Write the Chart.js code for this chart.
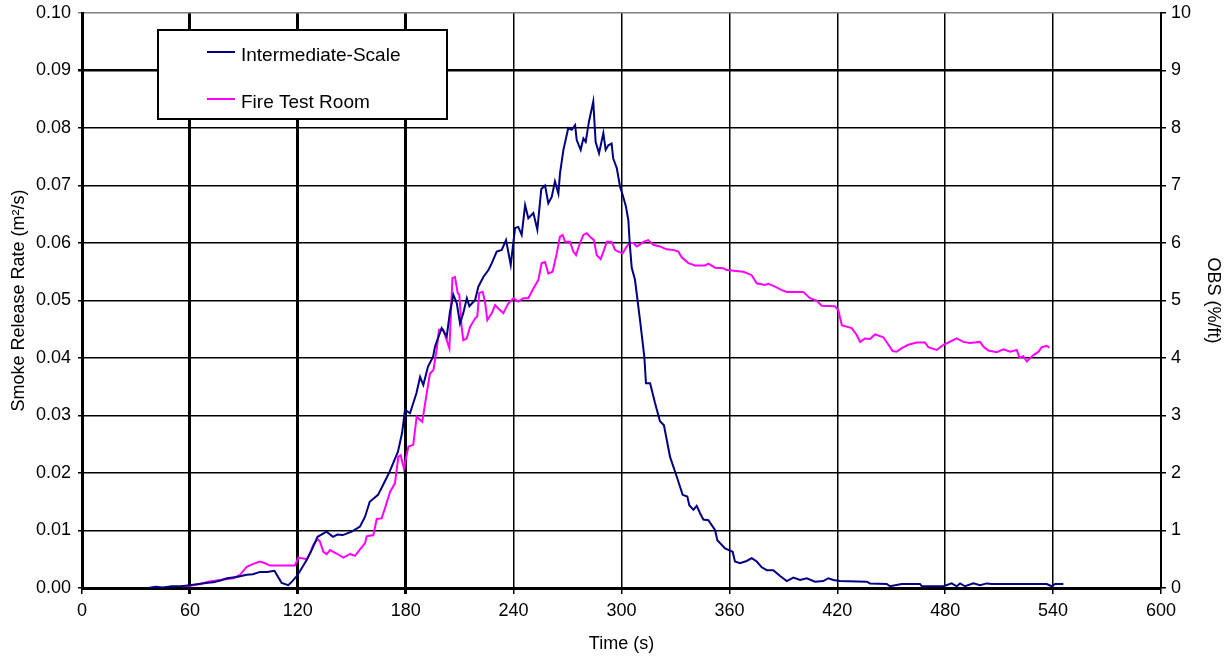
<!DOCTYPE html>
<html>
<head>
<meta charset="utf-8">
<title>Smoke Release Rate</title>
<script src="https://cdn.jsdelivr.net/npm/chart.js@4/dist/chart.umd.min.js"></script>
<style>
    body { margin: 0; background: #fff; }
    #wrap { width: 1232px; height: 657px; }
</style>
</head>
<body>
<div id="wrap"><canvas id="smokeChart" width="1232" height="657"></canvas></div>
<script>
// ---- datos ----
// Intermediate-Scale: tiempo (s) y tasa de humo (m2/s)
const isTime = [37, 41, 45, 50, 55, 60, 65, 70, 73, 77, 80.6, 86, 91.6, 95, 99, 103, 107, 108.3, 111, 114.7, 117, 120,
    125, 128, 131, 136, 139.6, 142, 145, 150, 154.6, 157.4, 160, 164.6, 167.4, 171, 175.7, 178, 179.6, 182.4, 186, 188,
    189.8, 192.4, 195.2, 196.3, 200, 202.8, 204.6, 206.5, 208.4, 210.2, 212, 214, 215.4, 218.6, 220.4, 223.2, 226, 227.9,
    230.6, 233.4, 235.8, 238.4, 240.8, 242.6, 244.5, 246.4, 248.2, 251, 253.2, 255.4, 257.5, 259.3, 261.2, 263, 264.9,
    265.8, 267.7, 270.4, 272.3, 274.2, 275.1, 277.3, 278.8, 280.1, 281.9, 284.3, 285.6, 287.5, 289.9, 291.2, 292.7, 294.5,
    295.4, 297.4, 299.2, 300.7, 302.5, 303.8, 304.7, 305.7, 307.5, 310.3, 312.7, 313.6, 315.9, 318.6, 321.4, 323.6, 327,
    330.7, 334, 336.6, 337.7, 340, 341.8, 343.7, 345.5, 348.3, 352, 353.3, 357.6, 361.8, 363.1, 365.9, 369.6, 372.4,
    375.2, 378, 380.8, 384.4, 388.2, 391.9, 395.6, 399.3, 403, 407.6, 412.2, 415, 417.8, 421.5, 436.4, 438.2, 447.5,
    449.3, 455.8, 466, 467, 479, 483.6, 486.4, 488.3, 491, 495.7, 499.4, 503.1, 505.9, 536.5, 539.2, 541.1, 545.7];
const isSmoke = [0, 0.0002, 0.0001, 0.0003, 0.0003, 0.0005, 0.0007, 0.0009, 0.001, 0.0013, 0.0017, 0.0019, 0.0023, 0.0024,
    0.0028, 0.0028, 0.003, 0.0023, 0.0009, 0.0005, 0.0012, 0.0023, 0.0049, 0.0068, 0.0089, 0.0098, 0.0089, 0.0093, 0.0092,
    0.0098, 0.0107, 0.0124, 0.015, 0.0162, 0.0179, 0.0202, 0.0237, 0.027, 0.031, 0.0304, 0.0339, 0.0367, 0.0353, 0.0385,
    0.0402, 0.042, 0.0452, 0.0437, 0.048, 0.051, 0.0495, 0.046, 0.0478, 0.0504, 0.049, 0.0501, 0.0524, 0.0541, 0.0553,
    0.0565, 0.0585, 0.0588, 0.0605, 0.0562, 0.0626, 0.0628, 0.0614, 0.0666, 0.0643, 0.0652, 0.0623, 0.0694, 0.07, 0.0669,
    0.068, 0.0707, 0.0686, 0.0721, 0.0762, 0.08, 0.0797, 0.0805, 0.0779, 0.0762, 0.0782, 0.0776, 0.0811, 0.0846, 0.0776,
    0.0756, 0.0791, 0.0762, 0.077, 0.0773, 0.0747, 0.073, 0.0698, 0.0683, 0.0663, 0.064, 0.0594, 0.0557, 0.0536, 0.0466,
    0.0402, 0.0356, 0.0356, 0.0322, 0.029, 0.0283, 0.0228, 0.0194, 0.0162, 0.0159, 0.0144, 0.0136, 0.0143, 0.013, 0.0119,
    0.0118, 0.0101, 0.0083, 0.0069, 0.0063, 0.0046, 0.0043, 0.0047, 0.0052, 0.0046, 0.0036, 0.0031, 0.0031, 0.0021,
    0.0012, 0.0018, 0.0014, 0.0017, 0.0011, 0.0012, 0.0017, 0.0014, 0.0012, 0.0011, 0.0008, 0.0007, 0.0003, 0.0007,
    0.0007, 0.0003, 0.0003, 0.0008, 0.0003, 0.0008, 0.0003, 0.0008, 0.0005, 0.0008, 0.0007, 0.0007, 0.0003, 0.0007, 0.0007];

// Fire Test Room: tiempo (s) y OBS (%/ft), eje derecho
const ftrTime = [55.4, 60, 65.6, 70.2, 76.7, 84.1, 87.9, 91.6, 95.3, 99, 101.8, 104.5, 118.4, 120.3, 124.9, 126.8, 128.6,
    130.9, 132.3, 134.2, 136.1, 138, 141.6, 145.3, 149, 151.8, 154.6, 157.4, 158.3, 162, 163.9, 166.6, 168.5, 171.3, 174,
    175.9, 177.2, 179, 181.5, 184.2, 186.1, 189.2, 191.7, 193.5, 195.4, 197.2, 198.5, 200.9, 202.8, 204.3, 206, 207.4,
    208.9, 209.8, 211.1, 212, 213.9, 215.8, 218.6, 219.8, 220.9, 222.8, 224.1, 225.4, 227.9, 229.7, 231.5, 234.3, 237.1,
    239.9, 242.6, 245.4, 248.2, 251, 253.8, 255.6, 257.5, 259.3, 261.7, 264, 265.8, 267.3, 268.6, 271.4, 273.2, 274.7,
    276.6, 278.8, 280.7, 282.5, 284.7, 286.2, 288.4, 290.3, 291.8, 294.5, 296.4, 298.2, 300.7, 302.9, 304.7, 306.6, 308.5,
    310.3, 312.2, 314.9, 317.7, 321.4, 325.1, 328.8, 331.6, 333.5, 337.2, 340.9, 346.5, 348.3, 352, 356.7, 358.5, 367.8,
    372.4, 375.2, 379.8, 381.7, 385.4, 389.1, 391.9, 401.1, 404.8, 408.5, 411.3, 418.7, 420.6, 422.5, 428, 430.8, 432.7,
    435.4, 438.2, 441, 445.6, 447.8, 450.8, 453, 455.8, 459.5, 464.2, 468.8, 470.6, 475.3, 479, 481.8, 486.4, 490.1,
    493.8, 499.4, 501.2, 504, 508.7, 512.4, 516.1, 519.8, 521.3, 523.5, 525.4, 529.1, 531.9, 533.7, 536.5, 537.9];
const ftrObs = [0.03, 0.04, 0.07, 0.11, 0.14, 0.17, 0.23, 0.37, 0.42, 0.46, 0.43, 0.39, 0.39, 0.53, 0.50, 0.60, 0.75, 0.85,
    0.81, 0.63, 0.59, 0.66, 0.60, 0.53, 0.59, 0.56, 0.67, 0.78, 0.90, 0.92, 1.20, 1.21, 1.39, 1.67, 1.82, 2.28, 2.31, 2.08,
    2.46, 2.49, 2.98, 2.89, 3.39, 3.73, 3.79, 4.14, 4.49, 4.49, 4.31, 4.17, 5.39, 5.41, 5.13, 5.10, 4.54, 4.31, 4.34, 4.54,
    4.69, 4.72, 5.13, 5.15, 4.98, 4.66, 4.78, 4.92, 4.86, 4.78, 4.95, 5.04, 4.98, 5.04, 5.04, 5.21, 5.36, 5.65, 5.67, 5.47,
    5.50, 5.82, 6.11, 6.14, 6.02, 6.02, 5.85, 5.79, 5.97, 6.14, 6.17, 6.11, 6.05, 5.79, 5.72, 5.88, 6.02, 6.02, 5.88, 5.85,
    5.82, 5.94, 6.00, 6.00, 5.94, 5.97, 6.02, 6.05, 5.97, 5.94, 5.89, 5.88, 5.85, 5.75, 5.65, 5.61, 5.61, 5.64, 5.57, 5.56,
    5.53, 5.50, 5.44, 5.30, 5.27, 5.29, 5.24, 5.18, 5.15, 5.15, 5.04, 5.00, 4.91, 4.90, 4.83, 4.57, 4.52, 4.40, 4.28, 4.34,
    4.33, 4.41, 4.36, 4.26, 4.12, 4.11, 4.17, 4.23, 4.27, 4.27, 4.19, 4.14, 4.23, 4.27, 4.34, 4.28, 4.26, 4.28, 4.20, 4.13,
    4.10, 4.15, 4.11, 4.14, 4.01, 4.03, 3.94, 4.05, 4.11, 4.19, 4.21, 4.18];

// etiquetas y escalas
const xTicks = [0, 60, 120, 180, 240, 300, 360, 420, 480, 540, 600];
const seriesNames = ["Intermediate-Scale", "Fire Test Room"];
const seriesColors = ["#000080", "#FF00FF"];

const FONT = "'Liberation Sans', Arial, sans-serif";

// Leyenda con recuadro, dibujada a mano (como en Excel)
const boxLegend = {
    id: "boxLegend",
    beforeDatasetsDraw(chart) {
        const c = chart.ctx;
        c.save();
        c.fillStyle = "#fff";
        c.fillRect(158, 30, 289, 89);
        c.strokeStyle = "#000";
        c.lineWidth = 2;
        c.strokeRect(158, 30, 289, 89);
        c.font = "19px " + FONT;
        c.textBaseline = "middle";
        chart.data.datasets.forEach((ds, i) => {
            const y = 52 + i * 47;
            c.strokeStyle = ds.borderColor;
            c.lineWidth = 2;
            c.beginPath();
            c.moveTo(207, y);
            c.lineTo(235, y);
            c.stroke();
            c.fillStyle = "#000";
            c.fillText(ds.label, 241, y + 4);
        });
        c.restore();
    }
};

// los ejes verticales no reservan espacio extra arriba/abajo
const noVPad = s => { s.paddingTop = 0; s.paddingBottom = 0; };

const ctx = document.getElementById("smokeChart").getContext("2d");
new Chart(ctx, {
    type: "line",
    data: {
        datasets: [{
            label: seriesNames[0],
            data: isTime.map((t, i) => ({ x: t, y: isSmoke[i] })),
            borderColor: seriesColors[0],
            borderWidth: 2,
            pointRadius: 0,
            tension: 0,
            yAxisID: "y"
        }, {
            label: seriesNames[1],
            data: ftrTime.map((t, i) => ({ x: t, y: ftrObs[i] })),
            borderColor: seriesColors[1],
            borderWidth: 2,
            pointRadius: 0,
            tension: 0,
            yAxisID: "y2"
        }]
    },
    options: {
        responsive: false,
        animation: false,
        devicePixelRatio: 1,
        layout: { padding: { top: 13, left: 0, right: 0, bottom: 0 } },
        plugins: {
            legend: { display: false },
            tooltip: { enabled: false }
        },
        scales: {
            x: {
                type: "linear",
                min: 0,
                max: 600,
                afterBuildTicks: s => { s.ticks = xTicks.map(v => ({ value: v })); },
                afterFit: s => { s.height = 69; },
                border: { color: "#000", width: 3 },
                grid: {
                    color: "#000",
                    lineWidth: c => [60, 120, 180].includes(c.tick && c.tick.value) ? 3 : 1.5,
                    tickLength: 6
                },
                ticks: { color: "#000", font: { size: 18, family: FONT }, padding: 6, maxRotation: 0 },
                title: {
                    display: true,
                    text: "Time (s)",
                    color: "#000",
                    font: { size: 18, family: FONT },
                    padding: { top: 4, bottom: 2 }
                }
            },
            y: {
                position: "left",
                min: 0,
                max: 0.1,
                afterFit: s => { s.width = 82; noVPad(s); },
                border: { color: "#000", width: 3 },
                grid: {
                    color: c => (c.tick && Math.abs(c.tick.value - 0.1) < 1e-6) ? "#808080" : "#000",
                    lineWidth: c => (c.tick && Math.abs(c.tick.value - 0.09) < 1e-6) ? 2.5 : 1.5,
                    tickLength: 4
                },
                ticks: {
                    stepSize: 0.01,
                    color: "#000",
                    font: { size: 18, family: FONT },
                    padding: 7,
                    callback: v => v.toFixed(2)
                },
                title: {
                    display: true,
                    text: "Smoke Release Rate (m²/s)",
                    color: "#000",
                    font: { size: 18, family: FONT },
                    padding: { top: 8, bottom: 0 }
                }
            },
            y2: {
                position: "right",
                min: 0,
                max: 10,
                afterFit: s => { s.width = 71; noVPad(s); },
                border: { color: "#000", width: 2 },
                grid: { drawOnChartArea: false, color: "#000", tickLength: 5, lineWidth: 1.5 },
                ticks: { stepSize: 1, color: "#000", font: { size: 18, family: FONT }, padding: 5 },
                title: {
                    display: true,
                    text: "OBS (%/ft)",
                    color: "#000",
                    font: { size: 18, family: FONT },
                    padding: { top: 8, bottom: 0 }
                }
            }
        }
    },
    plugins: [boxLegend]
});
</script>
</body>
</html>
